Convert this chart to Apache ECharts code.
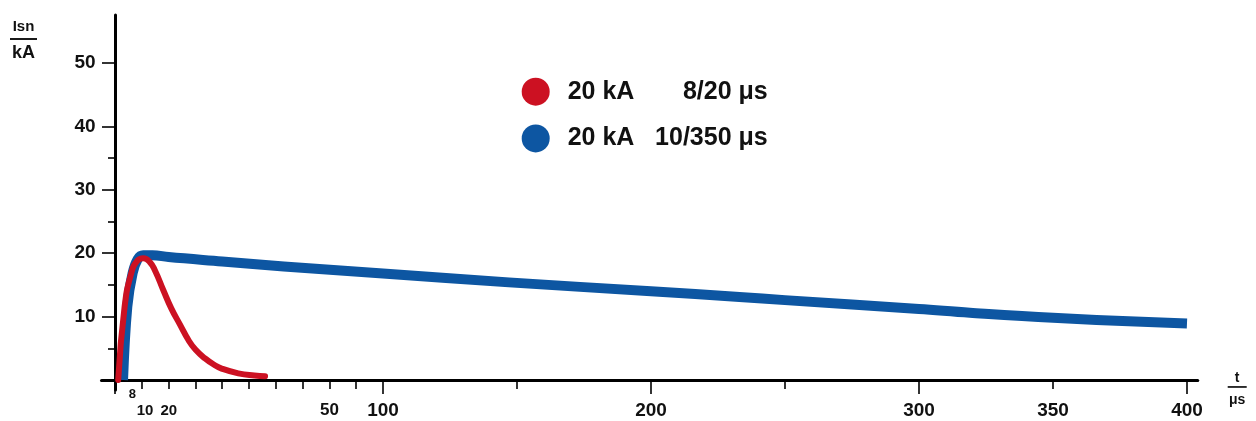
<!DOCTYPE html>
<html>
<head>
<meta charset="utf-8">
<script src="https://cdn.jsdelivr.net/npm/echarts@6/dist/echarts.min.js"></script>
<style>html,body{margin:0;padding:0;background:#fff;}#c{width:1256px;height:421px;}</style>
</head>
<body>
<div id="c"></div>
<script>
// ---- data ----
const redName = '20 kA 8/20 μs';
const blueName = '20 kA 10/350 μs';
const legendLeftText = ['20 kA', '20 kA'];
const legendRightText = ['8/20 μs', '10/350 μs'];

const redT = [1.2, 3.6, 6.1, 8.3, 10.6, 13, 15, 18, 21, 24.3, 27.4, 30, 33.6, 37, 39.8, 46, 52, 56];
const redI = [0, 11.6, 16.9, 18.8, 19.2, 18.6, 17.2, 14.2, 11.3, 8.7, 6.3, 4.8, 3.4, 2.4, 1.8, 1.05, 0.7, 0.6];

const blueT = [3, 4.6, 6.6, 8.5, 10.5, 14, 20, 40, 63, 100, 147, 200, 233, 250, 300, 319, 350, 400];
const blueI = [0, 11.6, 16.9, 19.1, 19.7, 19.7, 19.4, 18.7, 17.9, 16.8, 15.4, 14.0, 13.1, 12.6, 11.2, 10.6, 9.8, 8.9];

const yMajorTicks = [10, 20, 30, 40, 50];
const yMinorTicks = [5, 15, 25, 35];
const xMajorTicks = [0, 100, 200, 300, 400];
const xMinorTicks = [10, 20, 30, 40, 50, 60, 70, 80, 90, 150, 250, 350];
const xLabelAt = [6.5, 11.2, 20.1, 80, 100, 200, 300, 350, 400];
const xLabelText = ['8', '10', '20', '50', '100', '200', '300', '350', '400'];
const xLabelStyle = ['s8', 's15', 's15', 's17', 'n', 'n', 'n', 'n', 'n'];

// ---- chart ----
const FONT = 'Liberation Sans';
const INK = '#111';
const RED = '#cc1122';
const BLUE = '#0d56a2';
const X_MIN = -5, X_MAX = 404, Y_MIN = -1.6, Y_MAX = 57.6;

const zip = (a, b) => a.map((v, i) => [v, b[i]]);

const chart = echarts.init(document.getElementById('c'), null, { renderer: 'canvas' });

const baseX = {
  type: 'value', min: X_MIN, max: X_MAX, position: 'bottom',
  splitLine: { show: false },
  axisLine: { show: true, onZero: true, lineStyle: { color: '#000', width: 3.2 } },
};
const baseY = {
  type: 'value', min: Y_MIN, max: Y_MAX, position: 'left',
  splitLine: { show: false },
  axisLine: { show: true, onZero: true, lineStyle: { color: '#000', width: 3 } },
};

chart.setOption({
  animation: false,
  backgroundColor: '#fff',
  grid: { left: 101.6, right: 58.3, top: 15, bottom: 30.9, containLabel: false, outerBoundsMode: 'none' },
  legend: {
    data: [redName, blueName],
    orient: 'vertical',
    left: 521.7, top: 77.7, padding: 0,
    icon: 'circle',
    itemWidth: 28, itemHeight: 28, itemGap: 18.7,
    selectedMode: false,
    formatter: function (name) {
      const i = name === redName ? 0 : 1;
      return '{a|' + legendLeftText[i] + '}{b|' + legendRightText[i] + '}';
    },
    textStyle: {
      fontFamily: FONT, fontWeight: 'bold', fontSize: 25, color: INK, lineHeight: 28,
      rich: {
        a: { fontFamily: FONT, fontWeight: 'bold', fontSize: 25, color: INK, width: 85, padding: [0, 0, 0, 13] },
        b: { fontFamily: FONT, fontWeight: 'bold', fontSize: 25, color: INK, width: 115, align: 'right' }
      }
    }
  },
  xAxis: [
    Object.assign({}, baseX, {
      name: '{a|t}\n{l|}\n{b|μs}',
      nameLocation: 'end', nameGap: 30,
      nameTextStyle: {
        align: 'left', verticalAlign: 'middle', padding: [22, 0, 0, 0],
        rich: {
          a: { fontFamily: FONT, fontWeight: 'bold', fontSize: 14, color: INK, lineHeight: 14, width: 19, align: 'center' },
          l: { width: 19, height: 1.6, lineHeight: 4, backgroundColor: '#000', fontSize: 1 },
          b: { fontFamily: FONT, fontWeight: 'bold', fontSize: 14, color: INK, lineHeight: 22, width: 19, align: 'center' }
        }
      },
      axisTick: { show: true, customValues: xMajorTicks, length: 14, lineStyle: { color: '#000', width: 1.6 } },
      axisLabel: {
        show: true, customValues: xLabelAt, margin: 21, verticalAlign: 'middle', hideOverlap: false,
        formatter: function (v) {
          let best = 0;
          for (let i = 1; i < xLabelAt.length; i++) if (Math.abs(xLabelAt[i] - v) < Math.abs(xLabelAt[best] - v)) best = i;
          return '{' + xLabelStyle[best] + '|' + xLabelText[best] + '}';
        },
        rich: {
          s8: { fontFamily: FONT, fontWeight: 'bold', fontSize: 13, color: INK, padding: [0, 0, 34, 0] },
          s15: { fontFamily: FONT, fontWeight: 'bold', fontSize: 15, color: INK },
          s17: { fontFamily: FONT, fontWeight: 'bold', fontSize: 17, color: INK, padding: [0, 0, 2, 0] },
          n: { fontFamily: FONT, fontWeight: 'bold', fontSize: 19, color: INK }
        }
      }
    }),
    Object.assign({}, baseX, {
      axisLine: { show: true, onZero: true, lineStyle: { color: '#000', width: 0, opacity: 0 } },
      axisTick: { show: true, customValues: xMinorTicks, length: 9, lineStyle: { color: '#000', width: 1.6 } },
      axisLabel: { show: false }
    })
  ],
  yAxis: [
    Object.assign({}, baseY, {
      name: '{a|Isn}\n{l|}\n{b|kA}',
      nameLocation: 'end', nameGap: -50,
      nameTextStyle: {
        align: 'right', verticalAlign: 'bottom', padding: [0, 78, 0, 0],
        rich: {
          a: { fontFamily: FONT, fontWeight: 'bold', fontSize: 15, color: INK, lineHeight: 20, width: 27, align: 'center' },
          l: { width: 27, height: 1.8, lineHeight: 4, backgroundColor: '#000', fontSize: 1 },
          b: { fontFamily: FONT, fontWeight: 'bold', fontSize: 18, color: INK, lineHeight: 24, width: 27, align: 'center' }
        }
      },
      axisTick: { show: true, customValues: yMajorTicks, length: 13, lineStyle: { color: '#000', width: 1.6 } },
      axisLabel: {
        show: true, customValues: yMajorTicks, margin: 6,
        fontFamily: FONT, fontWeight: 'bold', fontSize: 19, color: INK
      }
    }),
    Object.assign({}, baseY, {
      axisLine: { show: true, onZero: true, lineStyle: { color: '#000', width: 0, opacity: 0 } },
      axisTick: { show: true, customValues: yMinorTicks, length: 7, lineStyle: { color: '#000', width: 1.6 } },
      axisLabel: { show: false }
    })
  ],
  series: [
    {
      name: blueName, type: 'line', xAxisIndex: 0, yAxisIndex: 0,
      data: zip(blueT, blueI), showSymbol: false, smooth: 0.4, silent: true, z: 2,
      itemStyle: { color: BLUE },
      lineStyle: { color: BLUE, width: 10, cap: 'butt', join: 'round' }
    },
    {
      name: redName, type: 'line', xAxisIndex: 0, yAxisIndex: 0,
      data: zip(redT, redI), showSymbol: false, smooth: 0.5, silent: true, z: 3,
      itemStyle: { color: RED },
      lineStyle: { color: RED, width: 6, cap: 'round', join: 'round' }
    }
  ]
});
</script>
</body>
</html>
